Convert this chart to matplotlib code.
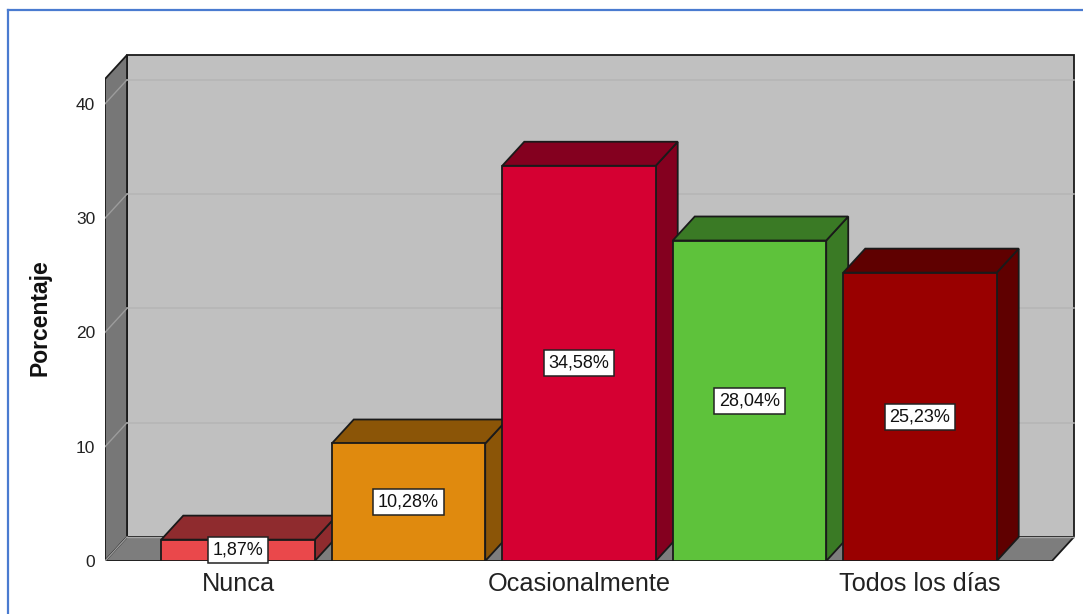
import matplotlib.pyplot as plt
from matplotlib.patches import Polygon
from matplotlib.lines import Line2D

# data
categories = ['Nunca', '', 'Ocasionalmente', '', 'Todos los días']
percentages = [1.87, 10.28, 34.58, 28.04, 25.23]
value_labels = ['1,87%', '10,28%', '34,58%', '28,04%', '25,23%']
y_ticks = [0, 10, 20, 30, 40]

front_colors = ['#EA484B', '#E08A0E', '#D50032', '#5EC23B', '#990000']
shade_colors = ['#8F2B2E', '#8B5507', '#84001F', '#3A7A25', '#5F0000']

plt.rcParams['font.family'] = ['Liberation Sans', 'DejaVu Sans']

W, H = 1083, 614
fig = plt.figure(figsize=(W / 100, H / 100), dpi=100)

# plot area in pixels: front floor line y=561, left wall front x=105
left_px, right_px, bottom_px, top_px = 105, 1075, 561, 54
ax = fig.add_axes([left_px / W, 1 - bottom_px / H,
                   (right_px - left_px) / W, (bottom_px - top_px) / H])

X0, X1 = -0.78, 4.774          # front floor extent (category units)
PX_X = 170.5                    # pixels per category
PX_Y = 11.43                    # pixels per percent
DX, DY = 22 / PX_X, 24 / PX_Y   # 3D depth offset
YTOP = 42.17
ax.set_xlim(X0, X0 + (right_px - left_px) / PX_X)
ax.set_ylim(0, (bottom_px - top_px) / PX_Y)

edge = '#1a1a1a'
# back wall, left wall, floor
ax.add_patch(Polygon([(X0 + DX, DY), (X1 + DX, DY), (X1 + DX, YTOP + DY), (X0 + DX, YTOP + DY)],
                     closed=True, fc='#C0C0C0', ec=edge, lw=1.3, zorder=1))
ax.add_patch(Polygon([(X0, 0), (X0, YTOP), (X0 + DX, YTOP + DY), (X0 + DX, DY)],
                     closed=True, fc='#777777', ec=edge, lw=1.3, zorder=1))
ax.add_patch(Polygon([(X0, 0), (X1, 0), (X1 + DX, DY), (X0 + DX, DY)],
                     closed=True, fc='#7D7D7D', ec=edge, lw=1.3, zorder=1))
for v in y_ticks:
    if v > 0:
        ax.plot([X0 + DX, X1 + DX], [v + DY, v + DY], color='#B5B5B5', lw=1.1, zorder=2)
    ax.plot([X0, X0 + DX], [v, v + DY], color='#9C9C9C', lw=1.0, zorder=2)
ax.plot([X0 + DX, X1 + DX], [DY, DY], color='#A8A8A8', lw=1.0, zorder=2)

# 3D bars
width = 0.9
for i, (val, fc, sc) in enumerate(zip(percentages, front_colors, shade_colors)):
    z = 3 + i * 3
    l, r = i - width / 2, i + width / 2
    ax.add_patch(Polygon([(r, 0), (r + DX, DY), (r + DX, val + DY), (r, val)],
                         closed=True, fc=sc, ec=edge, lw=1.3, zorder=z))
    ax.add_patch(Polygon([(l, val), (r, val), (r + DX, val + DY), (l + DX, val + DY)],
                         closed=True, fc=sc, ec=edge, lw=1.3, zorder=z))
    ax.bar(i, val, width=width, color=fc, edgecolor=edge, lw=1.3, zorder=z + 1)
    ax.text(i, val / 2, value_labels[i], ha='center', va='center', fontsize=13,
            color='#111111', zorder=z + 2,
            bbox=dict(boxstyle='square,pad=0.25', fc='white', ec='#222222', lw=1.1))

ax.set_yticks(y_ticks)
ax.set_yticklabels([str(t) for t in y_ticks], fontsize=12.5, color='#222222')
shown = [i for i, c in enumerate(categories) if c]
ax.set_xticks(shown)
ax.set_xticklabels([categories[i] for i in shown], fontsize=18.2, color='#222222')
ax.tick_params(axis='y', length=0, pad=7)
ax.tick_params(axis='x', length=0, pad=8)
for s in ax.spines.values():
    s.set_visible(False)
ax.patch.set_visible(False)

fig.text(40 / W, 1 - 318 / H, 'Porcentaje', rotation=90, ha='center', va='center',
         fontsize=16.5, fontweight='bold', color='#111111')

# blue frame around the chart (cut at the right and bottom)
fig.add_artist(Line2D([8 / W, 8 / W], [0, 1 - 10 / H], color='#4A7BD0', lw=1.6))
fig.add_artist(Line2D([8 / W, 1], [1 - 10 / H, 1 - 10 / H], color='#4A7BD0', lw=1.6))

fig.savefig('out.png', dpi=100)
